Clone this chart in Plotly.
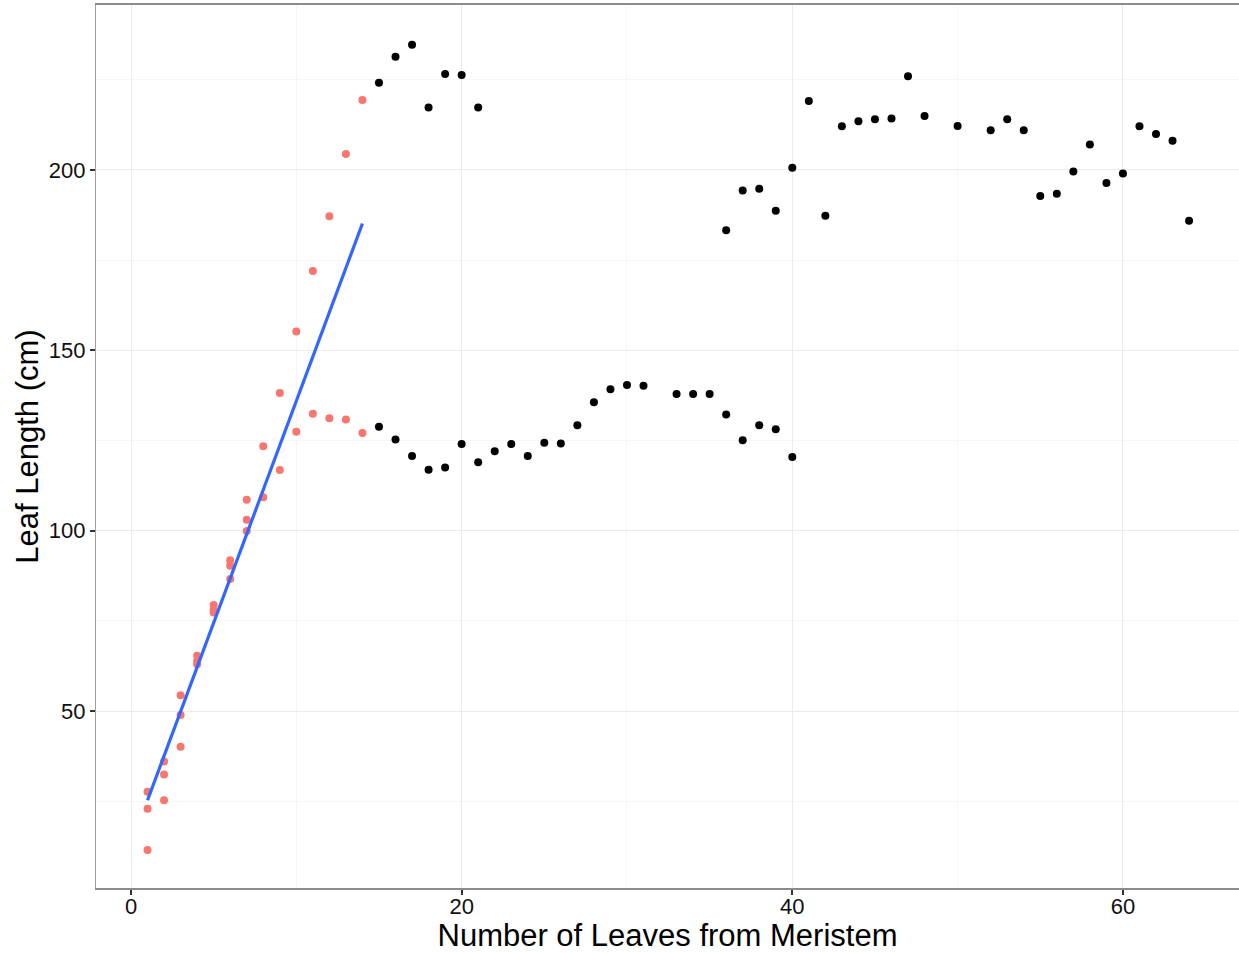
import numpy as np
import plotly.graph_objects as go

# Leaves 1-14 (highlighted group)
red_x = [1, 1, 1, 2, 2, 2, 3, 3, 3, 4, 4, 4, 5, 5, 5, 6, 6, 6, 7, 7, 7,
         8, 8, 9, 9, 10, 10, 11, 11, 12, 12, 13, 13, 14, 14]
red_y = [11.5, 22.9, 27.6, 25.3, 32.4, 36.0, 40.1, 48.9, 54.4, 63.0, 63.9, 65.3,
         77.3, 78.0, 79.4, 86.6, 90.3, 91.8, 99.9, 103.0, 108.6,
         109.3, 123.4, 116.8, 138.2, 127.4, 155.2, 132.4, 172.0,
         131.2, 187.2, 130.8, 204.4, 127.1, 219.4]

# Remaining leaves, lower plant
lower_x = [15, 16, 17, 18, 19, 20, 21, 22, 23, 24, 25, 26, 27, 28, 29, 30, 31,
           33, 34, 35, 36, 37, 38, 39, 40]
lower_y = [128.8, 125.3, 120.7, 116.9, 117.5, 124.0, 119.0, 122.0, 124.0, 120.7,
           124.4, 124.2, 129.2, 135.6, 139.2, 140.4, 140.2,
           137.9, 137.9, 137.9, 132.2, 125.1, 129.2, 128.1, 120.4]

# Remaining leaves, upper plant
upper_x = [15, 16, 17, 18, 19, 20, 21,
           36, 37, 38, 39, 40, 41, 42, 43, 44, 45, 46, 47, 48, 50,
           52, 53, 54, 55, 56, 57, 58, 59, 60, 61, 62, 63, 64]
upper_y = [224.2, 231.4, 234.7, 217.3, 226.6, 226.3, 217.3,
           183.3, 194.3, 194.8, 188.7, 200.6, 219.1, 187.3, 212.1, 213.5, 214.1,
           214.3, 226.0, 215.0, 212.2,
           211.0, 214.1, 211.0, 192.8, 193.4, 199.6, 207.1, 196.4, 199.0,
           212.1, 210.0, 208.1, 185.9]

x_ticks = [0, 20, 40, 60]
y_ticks = [50, 100, 150, 200]

RED = "#F8766D"
BLUE = "#3366FF"
FONT = "Liberation Sans, Arial, Helvetica, sans-serif"

# ordinary least-squares fit over the highlighted group
slope, intercept = np.polyfit(red_x, red_y, 1)
fit_x = np.array([min(red_x), max(red_x)], dtype=float)
fit_y = intercept + slope * fit_x

fig = go.Figure()
fig.add_trace(go.Scatter(
    x=lower_x + upper_x, y=lower_y + upper_y, mode="markers",
    marker=dict(color="black", size=8, line=dict(width=0)),
    showlegend=False, hoverinfo="x+y"))
fig.add_trace(go.Scatter(
    x=red_x, y=red_y, mode="markers",
    marker=dict(color=RED, size=8, line=dict(width=0)),
    showlegend=False, hoverinfo="x+y"))
fig.add_trace(go.Scatter(
    x=fit_x, y=fit_y, mode="lines",
    line=dict(color=BLUE, width=3.2),
    showlegend=False, hoverinfo="skip"))

fig.update_layout(
    width=1239, height=953,
    margin=dict(l=96, r=0, t=5, b=65),
    paper_bgcolor="white", plot_bgcolor="white",
    font=dict(family=FONT, color="black"),
    xaxis=dict(
        range=[-2.117, 67.02], tickvals=x_ticks, ticktext=[str(v) for v in x_ticks],
        showgrid=True, gridcolor="#EBEBEB", gridwidth=1.2, zeroline=False,
        minor=dict(dtick=10, tick0=0, showgrid=True, gridcolor="#F6F6F6", gridwidth=1),
        showline=True, linecolor="#8C8C8C", linewidth=1.6, mirror=True,
        ticks="outside", ticklen=5, tickwidth=1.6, tickcolor="#333333",
        tickfont=dict(size=22, family=FONT, color="#111111"),
        ticklabelstandoff=-7,
        title=dict(text="Number of Leaves from Meristem",
                   font=dict(size=31, family=FONT, color="black"), standoff=6),
    ),
    yaxis=dict(
        range=[0.94, 245.74], tickvals=y_ticks, ticktext=[str(v) for v in y_ticks],
        showgrid=True, gridcolor="#EBEBEB", gridwidth=1.2, zeroline=False,
        minor=dict(dtick=25, tick0=0, showgrid=True, gridcolor="#F6F6F6", gridwidth=1),
        showline=True, linecolor="#A0A0A0", linewidth=1.2, mirror=False,
        ticks="outside", ticklen=5, tickwidth=1.6, tickcolor="#333333",
        tickfont=dict(size=22, family=FONT, color="#111111"),
        title=dict(text="Leaf Length (cm)",
                   font=dict(size=31, family=FONT, color="black"), standoff=0),
    ),
)

fig.write_html("out.html")
